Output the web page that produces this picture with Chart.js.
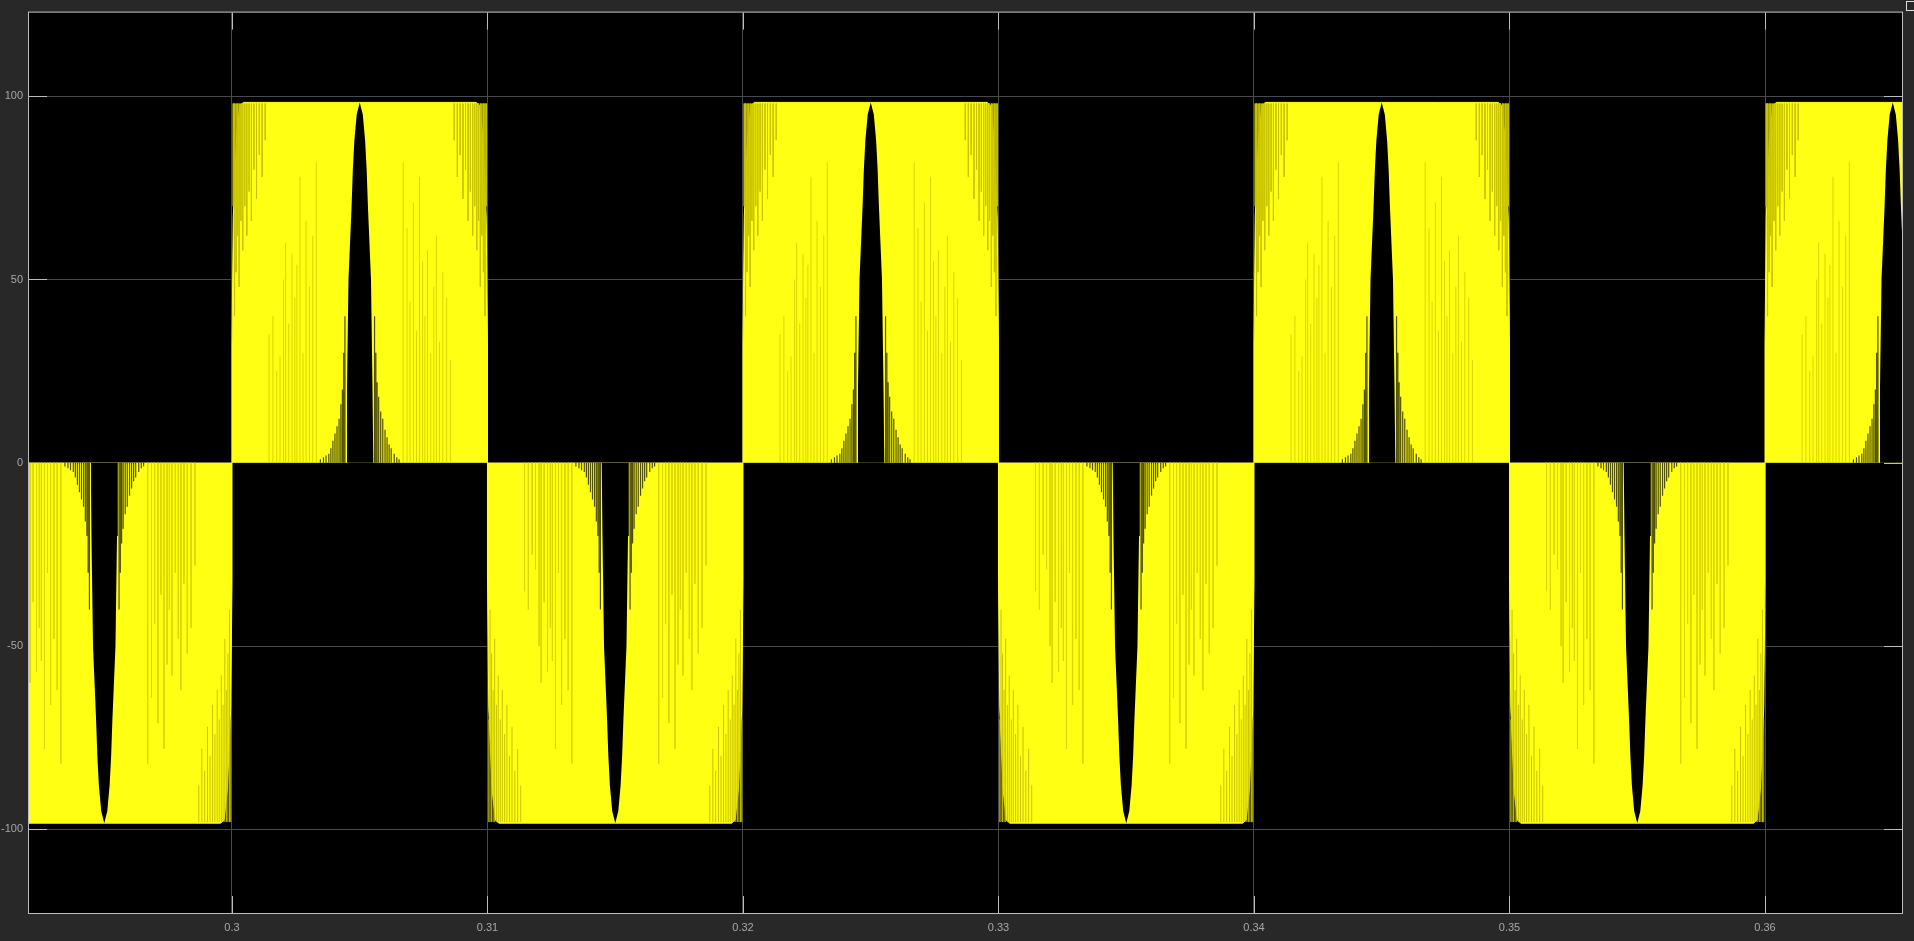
<!DOCTYPE html>
<html>
<head>
<meta charset="utf-8">
<script src="https://cdn.jsdelivr.net/npm/chart.js@4.4.1/dist/chart.umd.min.js"></script>
<style>
  html, body { margin: 0; padding: 0; background: #282828; overflow: hidden; }
  #wrap { position: relative; width: 1914px; height: 941px; }
</style>
</head>
<body>
<div id="wrap"><canvas id="scope"></canvas></div>
<script>
// scope window
const xMin = 0.292055;
const xMax = 0.365362;
const yMin = -122.8;
const yMax = 122.8;

const xTickVals = [0.30, 0.31, 0.32, 0.33, 0.34, 0.35, 0.36];
const xTickLabels = ['0.3', '0.31', '0.32', '0.33', '0.34', '0.35', '0.36'];
const yTickVals = [-100, -50, 0, 50, 100];
const yTickLabels = ['-100', '-50', '0', '50', '100'];

// half cycles of the output (start time, polarity)
const halfStarts = [0.29, 0.30, 0.31, 0.32, 0.33, 0.34, 0.35, 0.36];
const halfSigns = [-1, 1, -1, 1, -1, 1, -1, 1];

// envelope of one half cycle, time in ms from its start, magnitude in V
const outlineMs = [0, 0, 0.05, 0.18, 0.31, 0.45, 9.55, 9.69, 9.82, 9.95, 10, 10];
const outlineMag = [0, 32, 67, 89, 97.5, 98.3, 98.3, 97.5, 89, 67, 32, 0];

// black gap in the middle of each half cycle
const notchMs = [4.47, 4.50, 4.56, 4.68, 4.73, 4.79, 4.88, 5.0, 5.12, 5.21, 5.27, 5.32, 5.44, 5.50, 5.53];
const notchMag = [0, 20, 50, 70, 80, 88, 95, 98.3, 95, 88, 80, 70, 50, 20, 0];

// dark pulses next to the gap (from 0 up to height)
const fanLeftMs = [3.46, 3.58, 3.68, 3.79, 3.87, 3.95, 4.03, 4.11, 4.19, 4.26, 4.32, 4.37, 4.42];
const fanLeftTop = [1, 1.5, 2, 2.5, 4, 6, 8, 10, 12, 16, 20, 30, 40];
const fanRightMs = [5.58, 5.63, 5.68, 5.74, 5.82, 5.90, 5.99, 6.07, 6.15, 6.23, 6.35, 6.45, 6.54];
const fanRightTop = [40, 30, 22, 18, 14, 12, 9, 7, 5, 4, 2.5, 1.5, 1];

// darker pulses at the corners (from 98 down to end)
const edgeLeftMs = [0.05, 0.1, 0.16, 0.22, 0.28, 0.35, 0.42, 0.5, 0.58, 0.67, 0.76, 0.86, 0.96, 1.07, 1.18, 1.3];
const edgeLeftEnd = [70, 40, 52, 62, 48, 66, 58, 70, 62, 74, 66, 80, 72, 84, 78, 88];
const edgeRightMs = [8.7, 8.82, 8.93, 9.04, 9.14, 9.24, 9.33, 9.42, 9.5, 9.58, 9.65, 9.72, 9.78, 9.84, 9.9, 9.95];
const edgeRightEnd = [88, 78, 84, 72, 80, 66, 74, 62, 70, 58, 66, 48, 62, 52, 40, 70];

// lighter pulses scattered in the block (from 0 up to height)
const midMs = [1.45, 1.6, 1.75, 1.88, 2.02, 2.1, 2.22, 2.35, 2.46, 2.54, 2.66, 2.78, 2.9, 3.03, 3.16, 3.3,
               6.7, 6.85, 6.97, 7.1, 7.22, 7.34, 7.46, 7.55, 7.65, 7.78, 7.9, 8.0, 8.12, 8.25, 8.4, 8.55];
const midTop = [35, 40, 25, 29, 50, 60, 38, 57, 45, 54, 78, 30, 66, 48, 62, 82,
                82, 64, 44, 71, 36, 78, 55, 40, 58, 30, 48, 62, 33, 52, 45, 28];

const yellow = '#ffff14';

function shape(ms, mag) {
    let pts = [];
    halfStarts.forEach(function (t0, k) {
        for (let i = 0; i < ms.length; i++) {
            pts.push({ x: t0 + ms[i] / 1000, y: halfSigns[k] * mag[i] });
        }
    });
    return pts;
}

// vertical strokes, null between them
function strokes(groups) {
    let pts = [];
    halfStarts.forEach(function (t0, k) {
        let s = halfSigns[k];
        groups.forEach(function (g) {
            for (let i = 0; i < g.ms.length; i++) {
                let x = t0 + g.ms[i] / 1000;
                let a = typeof g.from === 'number' ? g.from : g.from[i];
                let b = typeof g.to === 'number' ? g.to : g.to[i];
                pts.push({ x: x, y: s * a });
                pts.push({ x: x, y: s * b });
                pts.push({ x: x, y: null });
            }
        });
    });
    return pts;
}

const scopeFrame = {
    id: 'scopeFrame',
    beforeDraw(chart) {
        const { ctx, chartArea: a } = chart;
        ctx.save();
        ctx.fillStyle = '#000000';
        ctx.fillRect(a.left, a.top, a.right - a.left, a.bottom - a.top);
        ctx.restore();
    },
    beforeDatasetsDraw(chart) {
        const { ctx, chartArea: a, scales } = chart;
        ctx.save();
        ctx.strokeStyle = '#bdbdbd';
        ctx.lineWidth = 1;
        ctx.beginPath();
        scales.y.ticks.forEach(function (t) {
            let y = Math.round(scales.y.getPixelForValue(t.value)) + 0.5;
            ctx.moveTo(a.left, y); ctx.lineTo(a.left + 18, y);
            ctx.moveTo(a.right - 18, y); ctx.lineTo(a.right, y);
        });
        scales.x.ticks.forEach(function (t) {
            let x = Math.round(scales.x.getPixelForValue(t.value)) + 0.5;
            ctx.moveTo(x, a.bottom); ctx.lineTo(x, a.bottom - 17);
            ctx.moveTo(x, a.top); ctx.lineTo(x, a.top + 17);
        });
        ctx.stroke();
        ctx.restore();
    },
    afterDraw(chart) {
        const { ctx, chartArea: a } = chart;
        ctx.save();
        ctx.strokeStyle = '#bdbdbd';
        ctx.lineWidth = 1;
        ctx.strokeRect(a.left - 0.5, a.top - 0.5, a.right - a.left + 1, a.bottom - a.top + 1);
        // little toolbar box top right
        ctx.strokeStyle = '#e0e0e0';
        ctx.strokeRect(1906.5, 1.5, 9, 9);
        ctx.restore();
    }
};

let ctx = document.getElementById('scope').getContext('2d');
let chart = new Chart(ctx, {
    type: 'line',
    data: {
        datasets: [
            {
                // signal body
                data: shape(outlineMs, outlineMag),
                borderColor: yellow,
                backgroundColor: yellow,
                borderWidth: 1,
                fill: 'origin',
                order: 5
            },
            {
                data: strokes([
                    { ms: midMs, from: 0, to: midTop }
                ]),
                borderColor: '#dad600',
                borderWidth: 1,
                fill: false,
                spanGaps: false,
                order: 4
            },
            {
                data: strokes([
                    { ms: edgeLeftMs, from: 98, to: edgeLeftEnd },
                    { ms: edgeRightMs, from: 98, to: edgeRightEnd }
                ]),
                borderColor: '#c8c400',
                borderWidth: 1,
                fill: false,
                spanGaps: false,
                order: 3
            },
            {
                data: strokes([
                    { ms: fanLeftMs, from: 0, to: fanLeftTop },
                    { ms: fanRightMs, from: 0, to: fanRightTop }
                ]),
                borderColor: 'rgba(50,50,0,0.85)',
                borderWidth: 1.2,
                fill: false,
                spanGaps: false,
                order: 2
            },
            {
                // gap in the middle
                data: shape(notchMs, notchMag),
                borderColor: '#000000',
                backgroundColor: '#000000',
                borderWidth: 0,
                fill: 'origin',
                order: 1
            }
        ]
    },
    options: {
        responsive: true,
        maintainAspectRatio: false,
        animation: false,
        events: [],
        layout: { padding: { top: 9, right: 12, left: 0, bottom: 0 } },
        elements: { point: { radius: 0 }, line: { tension: 0 } },
        plugins: { legend: { display: false }, tooltip: { enabled: false } },
        scales: {
            x: {
                type: 'linear',
                min: xMin,
                max: xMax,
                afterBuildTicks: function (scale) {
                    scale.ticks = xTickVals.map(function (v) { return { value: v }; });
                },
                afterFit: function (scale) { scale.height = 28; },
                grid: { color: '#4a4a4a', lineWidth: 1, drawTicks: false },
                border: { display: false },
                ticks: {
                    color: '#a8a8a8',
                    padding: 8,
                    maxRotation: 0,
                    font: { family: 'Liberation Sans, Arial, sans-serif', size: 11 },
                    callback: function (v, i) { return xTickLabels[i]; }
                }
            },
            y: {
                min: yMin,
                max: yMax,
                afterBuildTicks: function (scale) {
                    scale.ticks = yTickVals.map(function (v) { return { value: v }; });
                },
                afterFit: function (scale) { scale.width = 29; },
                grid: { color: '#4a4a4a', lineWidth: 1, drawTicks: false },
                border: { display: false },
                ticks: {
                    color: '#a8a8a8',
                    padding: 6,
                    font: { family: 'Liberation Sans, Arial, sans-serif', size: 11 },
                    callback: function (v, i) { return yTickLabels[i]; }
                }
            }
        }
    },
    plugins: [scopeFrame]
});
</script>
</body>
</html>
